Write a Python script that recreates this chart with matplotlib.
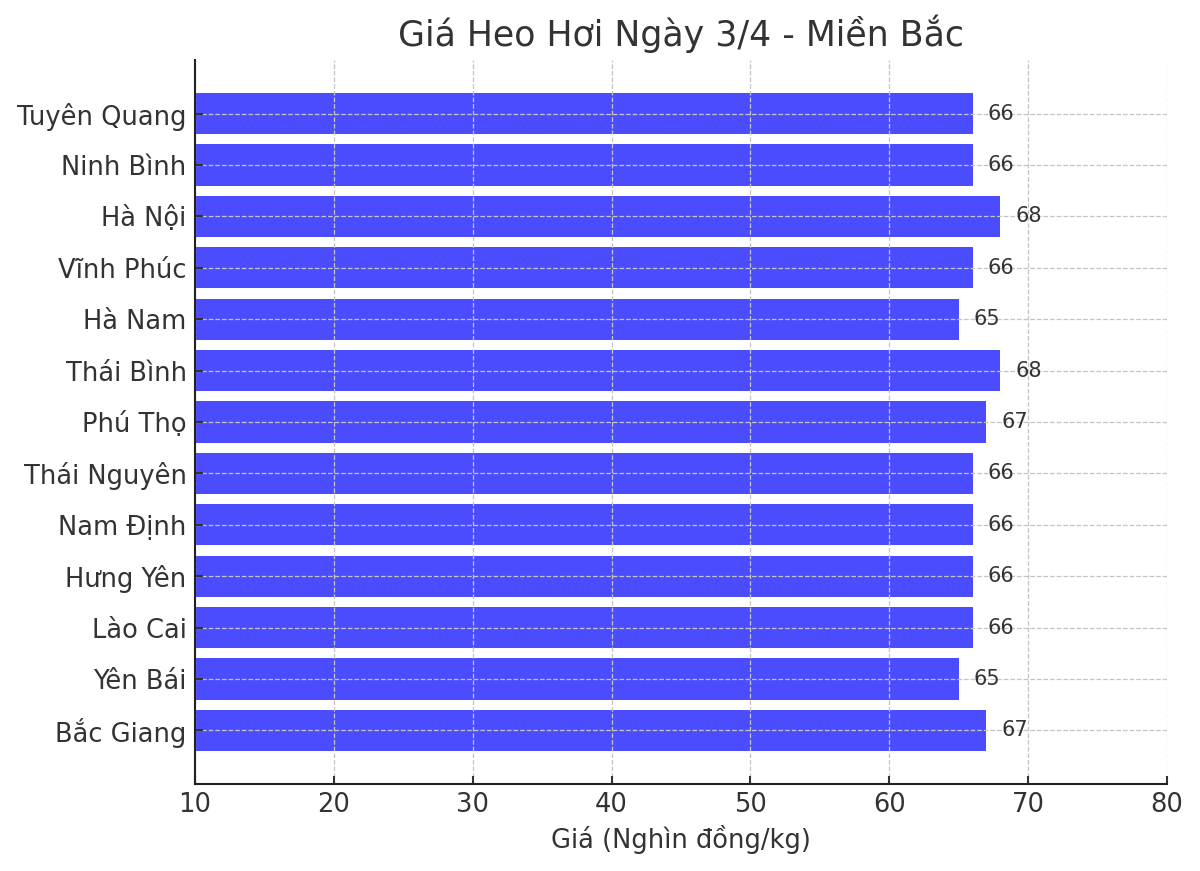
import matplotlib
matplotlib.use("Agg")
import matplotlib.pyplot as plt

# Data (bottom to top, as barh draws them)
provinces = ["Bắc Giang", "Yên Bái", "Lào Cai", "Hưng Yên", "Nam Định",
             "Thái Nguyên", "Phú Thọ", "Thái Bình", "Hà Nam", "Vĩnh Phúc",
             "Hà Nội", "Ninh Bình", "Tuyên Quang"]
prices = [67, 65, 66, 66, 66, 66, 67, 68, 65, 66, 68, 66, 66]

plt.rcParams["font.family"] = ["DejaVu Sans"]
text_color = "#333333"

fig, ax = plt.subplots(figsize=(12, 8.71), dpi=100)
fig.subplots_adjust(left=0.1625, right=0.9725, top=0.931, bottom=0.1)

ax.barh(provinces, prices, color="blue", alpha=0.7, height=0.8)
for i, v in enumerate(prices):
    ax.text(v + 1.1, i, str(v), va="center", ha="left", fontsize=15, color=text_color)

ax.set_xlim(10, 80)
ax.set_title("Giá Heo Hơi Ngày 3/4 - Miền Bắc", fontsize=25, color=text_color, pad=10)
ax.set_xlabel("Giá (Nghìn đồng/kg)", fontsize=18.5, color=text_color, labelpad=5)

ax.grid(True, linestyle="--", color="#c4c4c4", linewidth=0.9)
ax.set_axisbelow(False)
for s in ["top", "right"]:
    ax.spines[s].set_visible(False)
for s in ["left", "bottom"]:
    ax.spines[s].set_color("#222222")
    ax.spines[s].set_linewidth(1.5)
    ax.spines[s].set_zorder(5)
ax.tick_params(axis="both", direction="in", labelsize=18.5, colors=text_color, length=6, width=1.5)
ax.tick_params(axis="y", pad=6)
ax.tick_params(axis="x", pad=6)

fig.savefig("out.png", dpi=100)
